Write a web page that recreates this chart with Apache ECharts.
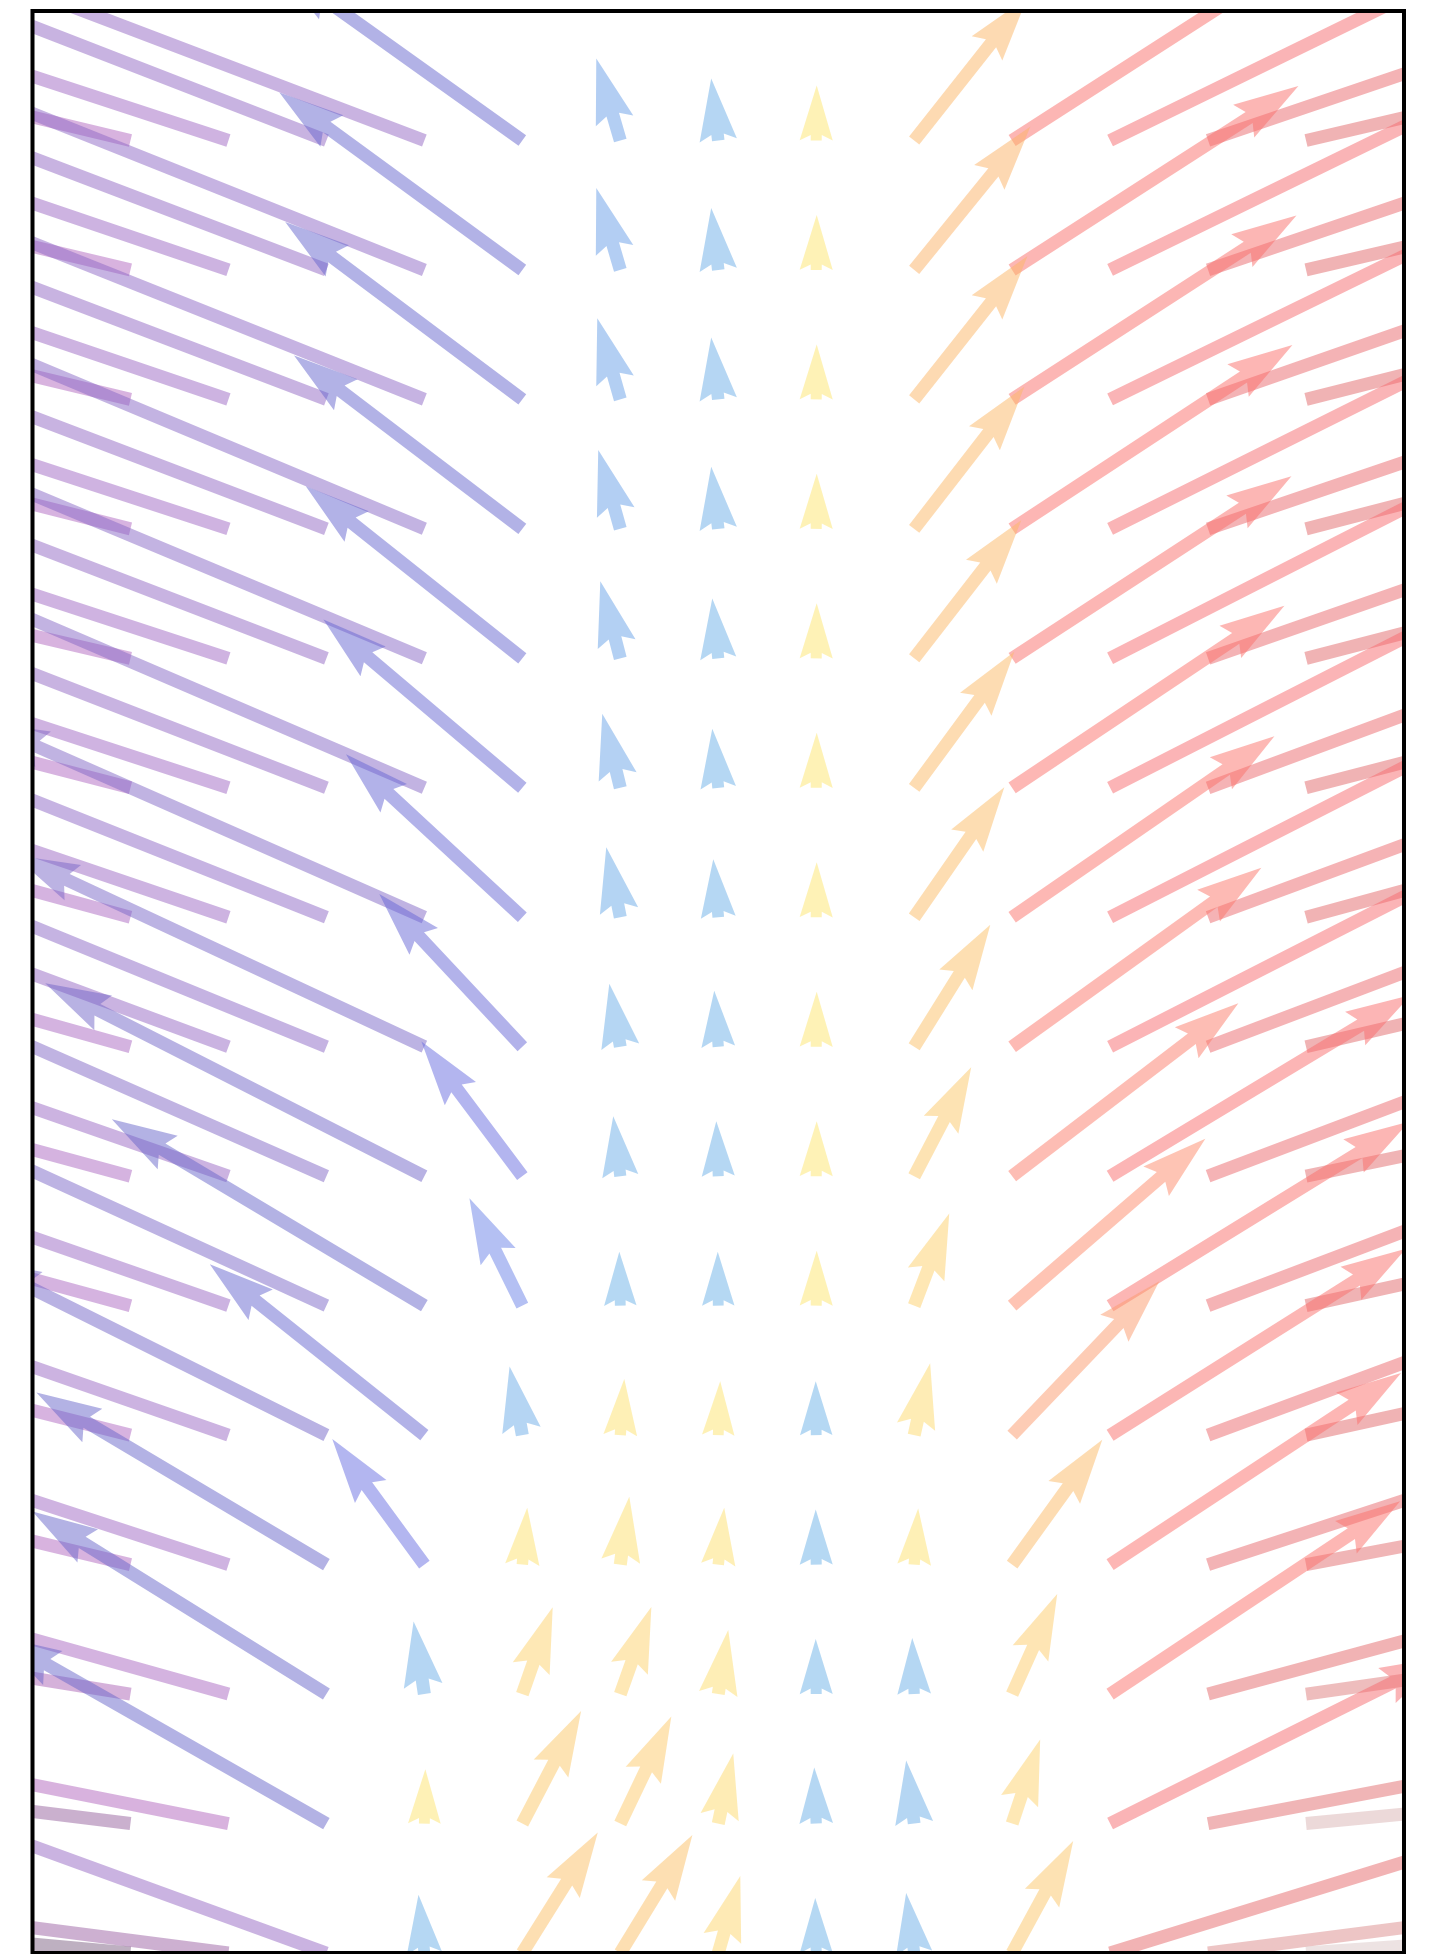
<!DOCTYPE html>
<html>
<head>
<meta charset="utf-8">
<script src="https://cdn.jsdelivr.net/npm/echarts@6/dist/echarts.min.js"></script>
<style>
html,body{margin:0;padding:0;background:#fff;}
#chart{width:1440px;height:1954px;}
</style>
</head>
<body>
<div id="chart"></div>
<script>
// grid columns (x) and rows (y, top row first)
const colsX = [1,2,3,4,5,6,7,8,9,10,11,12,13];
const rowsY = [14,13,12,11,10,9,8,7,6,5,4,3,2,1,0];

// U (x-component) per row, per column, in data units
const U = [
 [-2.04,-3.07,-3.78,-4.80,-2.50,-0.245,-0.072, 0.005, 1.155,2.922,3.68,3.07,2.04],
 [-2.04,-3.07,-3.78,-4.80,-2.48,-0.245,-0.072, 0.005, 1.185,2.922,3.68,3.07,2.04],
 [-2.04,-3.07,-3.78,-4.80,-2.42,-0.235,-0.072, 0.005, 1.155,2.902,3.68,3.07,2.04],
 [-2.04,-3.07,-3.78,-4.80,-2.33,-0.225,-0.072, 0.005, 1.124,2.861,3.68,3.07,2.04],
 [-2.04,-3.07,-3.78,-4.80,-2.21,-0.204,-0.061, 0.005, 1.093,2.851,3.68,3.07,2.04],
 [-2.04,-3.07,-3.78,-4.80,-2.03,-0.184,-0.061, 0.005, 1.022,2.779,3.68,3.07,2.04],
 [-2.04,-3.07,-3.78,-4.50,-1.80,-0.143,-0.051, 0.005, 0.920,2.677,3.68,3.07,2.04],
 [-2.04,-3.07,-3.78,-4.19,-1.46,-0.112,-0.041, 0.005, 0.777,2.544,3.68,3.07,2.04],
 [-2.04,-3.07,-3.78,-3.87,-1.03,-0.072,-0.020, 0.005, 0.582,2.309,3.07,3.07,2.04],
 [-2.04,-3.07,-3.78,-3.19,-0.54,-0.010,-0.005, 0.005, 0.358,1.972,3.05,3.07,2.04],
 [-2.04,-3.07,-3.58,-2.19,-0.13, 0.041, 0.020,-0.005, 0.163,1.502,3.02,3.07,2.04],
 [-2.04,-3.07,-2.96,-0.94, 0.05, 0.092, 0.061,-0.005, 0.041,0.920,2.97,3.07,2.04],
 [-2.04,-3.07,-3.00,-0.11, 0.31, 0.317, 0.102,-0.005,-0.020,0.460,2.96,3.07,2.04],
 [-2.04,-3.07,-3.37, 0.01, 0.60, 0.521, 0.153,-0.020,-0.082,0.286,3.42,3.07,2.04],
 [-2.04,-3.07,-3.78,-0.06, 0.77, 0.736, 0.225,-0.010,-0.082,0.623,3.68,3.07,2.04]
];

// V (y-component, up positive) per row, per column, in data units
const V = [
 [0.37,0.76,1.11,1.38,1.35,0.633,0.479,0.425,1.105,1.421,1.36,0.79,0.36],
 [0.37,0.79,1.09,1.45,1.37,0.633,0.479,0.425,1.105,1.421,1.36,0.79,0.36],
 [0.37,0.79,1.09,1.45,1.37,0.626,0.479,0.425,1.105,1.421,1.36,0.81,0.39],
 [0.39,0.76,1.09,1.52,1.34,0.610,0.479,0.425,1.097,1.421,1.39,0.79,0.40],
 [0.36,0.76,1.10,1.52,1.33,0.595,0.463,0.425,1.066,1.406,1.42,0.81,0.40],
 [0.40,0.76,1.11,1.56,1.30,0.572,0.456,0.425,1.050,1.406,1.42,0.86,0.40],
 [0.42,0.79,1.14,1.50,1.26,0.541,0.448,0.425,1.004,1.398,1.42,0.86,0.42],
 [0.43,0.86,1.17,1.48,1.18,0.487,0.433,0.425,0.942,1.383,1.42,0.88,0.36],
 [0.42,0.81,1.26,1.49,1.04,0.463,0.425,0.425,0.842,1.336,1.40,0.88,0.32],
 [0.42,0.81,1.31,1.44,0.83,0.417,0.417,0.425,0.711,1.290,1.42,0.88,0.34],
 [0.39,0.81,1.35,1.32,0.53,0.433,0.417,0.417,0.556,1.189,1.44,0.86,0.34],
 [0.37,0.76,1.33,0.97,0.44,0.525,0.440,0.425,0.433,0.965,1.48,0.76,0.29],
 [0.25,0.65,1.41,0.56,0.67,0.672,0.494,0.425,0.433,0.772,1.49,0.63,0.22],
 [0.19,0.46,1.45,0.42,0.87,0.826,0.541,0.433,0.487,0.649,1.29,0.44,0.15],
 [0.14,0.30,1.04,0.45,0.93,0.911,0.595,0.425,0.463,0.865,0.86,0.30,0.11]
];

// colour by arrow direction (degrees) -> colour as seen over white at 50% alpha
const angleStops = [
 [0,238,232,232],[4,237,228,228],[6,236,214,214],[8,238,190,190],[11,240,180,181],
 [14,240,179,180],[19,244,179,181],[27,251,180,182],[34,253,183,180],[38,253,190,180],
 [41,254,197,180],[46,253,204,181],[52,253,219,178],[58,253,223,178],[65,254,229,180],
 [72,254,233,181],[80,254,238,182],[90,254,242,182],[90.0001,181,216,243],[100,181,214,243],
 [106,179,207,243],[116,180,192,243],[126,179,182,240],[134,178,178,234],[150,179,178,228],
 [155,188,179,227],[158,198,179,226],[161,205,179,225],[166,216,179,224],[170,216,178,222],
 [172.5,206,176,210],[174,194,176,198],[176,186,176,186],[180,180,173,180]
];

function colorFor(ang) {
  if (ang < 0) ang = 0;
  if (ang > 180) ang = 180;
  let c = angleStops[angleStops.length - 1];
  for (let i = 0; i < angleStops.length - 1; i++) {
    const a = angleStops[i], b = angleStops[i + 1];
    if (ang >= a[0] && ang <= b[0]) {
      const t = (ang - a[0]) / (b[0] - a[0] || 1);
      c = [0, a[1] + (b[1] - a[1]) * t, a[2] + (b[2] - a[2]) * t, a[3] + (b[3] - a[3]) * t];
      break;
    }
  }
  const base = [1, 2, 3].map(i => Math.max(0, Math.min(255, Math.round(2 * c[i] - 255))));
  return 'rgba(' + base[0] + ',' + base[1] + ',' + base[2] + ',0.5)';
}

const data = [];
for (let j = 0; j < rowsY.length; j++) {
  for (let k = 0; k < colsX.length; k++) {
    data.push([colsX[k], rowsY[j], U[j][k], V[j][k]]);
  }
}

const SHAFT = 13, HEADW = 3, HEADL = 5, HEADAXL = 4.5;

function renderArrow(params, api) {
  const x = api.value(0), y = api.value(1), u = api.value(2), v = api.value(3);
  const p0 = api.coord([x, y]);
  const p1 = api.coord([x + u, y + v]);
  const dx = p1[0] - p0[0], dy = p1[1] - p0[1];
  const L = Math.hypot(dx, dy);
  if (L < 0.5) return null;
  const ux = dx / L, uy = dy / L, nx = -uy, ny = ux;
  let w = SHAFT, hw = SHAFT * HEADW, hl = SHAFT * HEADL, hal = SHAFT * HEADAXL;
  if (L < hl) { const s = L / hl; w *= s; hw *= s; hl *= s; hal *= s; }
  const pt = (a, b) => [p0[0] + ux * a + nx * b, p0[1] + uy * a + ny * b];
  const pts = [pt(0, -w / 2), pt(L - hal, -w / 2), pt(L - hl, -hw / 2), pt(L, 0),
               pt(L - hl, hw / 2), pt(L - hal, w / 2), pt(0, w / 2)];
  const ang = Math.atan2(-dy, dx) * 180 / Math.PI;
  return { type: 'polygon', shape: { points: pts }, style: { fill: colorFor(ang), stroke: null } };
}

const chart = echarts.init(document.getElementById('chart'), null, { renderer: 'canvas' });
chart.setOption({
  backgroundColor: '#ffffff',
  animation: false,
  grid: { left: 32.5, right: 36, top: 11, bottom: 1, show: true, z: 10,
          borderColor: '#000', borderWidth: 4, backgroundColor: 'transparent' },
  xAxis: { type: 'value', min: 0, max: 14, show: false },
  yAxis: { type: 'value', min: 0, max: 15, show: false },
  series: [{
    type: 'custom',
    renderItem: renderArrow,
    clip: true,
    data: data,
    encode: { x: 0, y: 1 }
  }]
});
</script>
</body>
</html>
